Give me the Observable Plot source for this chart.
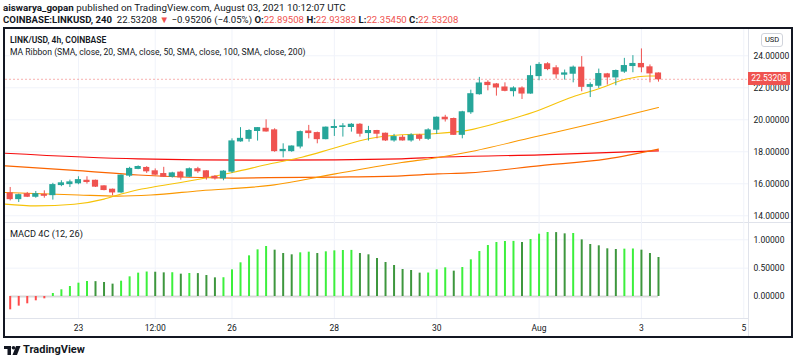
<!DOCTYPE html>
<html><head><meta charset="utf-8">
<script src="https://cdn.jsdelivr.net/npm/d3@7"></script>
<script src="https://cdn.jsdelivr.net/npm/@observablehq/plot@0.6"></script>
<style>
body{margin:0;background:#fff;font-family:Roboto,"Liberation Sans",sans-serif;color:#131722}
#root{position:relative;width:800px;height:362px;overflow:hidden;background:#fff}
.abs{position:absolute;white-space:pre}
.b{font-weight:700}
.r{color:#ef5350}
</style></head>
<body><div id="root">
<div class="abs" id="h1" style="left:3px;top:2px;font-size:9.8px;line-height:12px"><span class="b">aiswarya_gopan</span> published on TradingView.com, August 03, 2021 10:12:07 UTC</div>
<div class="abs" id="h2" style="left:3px;top:13.5px;font-size:9.6px;line-height:12px"><span class="b">COINBASE:LINKUSD, 240</span>  22.53208 <span class="r">▼</span> −0.95206 (−4.05%) <span class="b">O:</span><span class="r">22.89508</span> <span class="b">H:</span><span class="r">22.93383</span> <span class="b">L:</span><span class="r">22.35450</span> <span class="b">C:</span><span class="r">22.53208</span></div>
<div class="abs" style="left:3px;top:27px;width:786px;height:307px;border:2px solid #131722"></div>
<div class="abs" style="left:748px;top:29px;width:1px;height:307px;background:#e0e3eb"></div>
<div class="abs" style="left:5px;top:221.5px;width:786px;height:1px;background:#e0e3eb"></div>
<div class="abs" style="left:5px;top:318px;width:743px;height:1px;background:#e0e3eb"></div>
<div class="abs" id="price" style="left:5px;top:29px"></div>
<div class="abs" id="macd" style="left:5px;top:222px"></div>
<div class="abs" style="left:10px;top:34px;font-size:8.5px;line-height:12px;font-weight:600">LINK/USD, 4h, COINBASE</div>
<div class="abs" style="left:10px;top:46px;font-size:8.6px;line-height:12px">MA Ribbon (SMA, close, 20, SMA, close, 50, SMA, close, 100, SMA, close, 200)</div>
<div class="abs" style="left:10px;top:227.5px;font-size:9.2px;line-height:12px">MACD 4C (12, 26)</div>
<div class="abs" style="left:761px;top:33px;width:20px;height:12px;border:1px solid #d1d4dc;border-radius:3px;font-size:7.5px;line-height:12px;text-align:center;background:#fff">USD</div>
<div class="abs" id="plabel" style="left:748px;width:42px;height:13px;background:#ef5350;color:#fff;font-size:8.5px;line-height:13px;text-align:center"></div>
<svg class="abs" style="left:0;top:340px" width="100" height="20">
  <rect x="4" y="6" width="7" height="3" fill="#131722"/>
  <rect x="7.5" y="6" width="3.5" height="9" fill="#131722"/>
  <circle cx="13.5" cy="7.8" r="1.8" fill="#131722"/>
  <polygon points="16,6 20.5,6 17,15 12.5,15" fill="#131722"/>
</svg>
<div class="abs" style="left:23px;top:342.5px;font-size:11px;line-height:14px;font-weight:700">TradingView</div>
</div>
<script>
// ---- data ----
const candleStart = Date.UTC(2021, 6, 21, 16); // first 4h candle
const opens  = [15.40,15.04,15.35,15.19,15.31,15.29,15.92,15.98,16.03,16.19,16.19,15.84,15.63,15.46,16.51,16.93,16.99,16.78,16.61,16.44,16.70,16.44,16.91,16.78,16.44,16.34,16.76,18.65,18.81,19.30,19.44,19.34,18.04,18.04,18.33,19.27,19.17,18.79,19.49,19.55,19.55,19.69,19.17,19.30,19.13,18.71,18.88,18.71,19.02,18.81,19.38,20.13,20.05,19.06,20.47,21.60,22.31,22.21,22.02,21.79,21.96,21.64,22.73,23.47,23.22,22.82,22.88,23.26,22.06,22.13,22.84,22.65,23.01,23.36,23.49,23.28,22.89508];
const highs  = [15.77,15.35,15.46,15.52,15.56,16.03,16.19,16.23,16.44,16.44,16.23,15.88,15.67,16.55,17.03,17.12,17.07,16.93,17.03,16.72,16.78,16.99,17.03,16.82,16.51,16.82,18.81,19.51,19.38,19.51,20.00,19.44,18.50,18.37,19.30,19.65,19.23,19.55,20.00,19.76,19.76,19.76,19.59,19.34,19.17,19.09,19.02,19.13,19.09,19.44,20.18,20.28,20.11,20.53,21.85,22.65,22.44,22.27,22.31,22.06,22.06,23.36,23.57,23.57,23.38,23.11,23.36,23.95,22.31,23.17,22.90,23.11,23.84,24.01,24.43,23.43,22.93383];
const lows   = [14.93,14.83,15.14,15.10,15.10,14.98,15.82,15.77,15.94,15.98,15.77,15.56,15.25,15.40,16.40,16.88,16.65,16.51,16.40,16.36,16.23,16.40,16.65,16.23,16.23,16.19,16.65,18.60,18.60,18.67,19.23,17.97,17.62,17.97,18.18,18.81,18.50,18.75,18.96,18.92,19.23,18.92,18.67,18.81,18.65,18.60,18.67,18.60,18.67,18.71,19.09,19.86,19.02,18.81,20.34,21.54,21.81,21.48,21.75,21.43,21.27,21.60,22.44,23.07,22.55,22.48,22.31,21.75,21.39,21.96,22.17,22.13,22.90,22.94,22.94,22.31,22.35450];
const closes = [15.04,15.29,15.19,15.35,15.25,15.92,16.03,16.09,16.23,16.11,15.82,15.61,15.46,16.51,16.93,17.05,16.78,16.57,16.44,16.65,16.40,16.91,16.78,16.40,16.34,16.76,18.65,18.81,19.30,19.48,19.27,18.04,18.12,18.33,19.23,19.17,18.79,19.51,19.55,19.59,19.69,19.13,19.30,19.13,18.71,18.92,18.71,19.02,18.81,19.34,20.13,20.03,19.06,20.47,21.60,22.27,22.17,22.02,21.81,21.96,21.64,22.73,23.43,23.17,22.84,22.90,23.26,22.06,22.17,22.86,22.65,23.05,23.36,23.49,23.28,22.90,22.53208];
const macdHist = [-0.235,-0.170,-0.129,-0.076,-0.041,0.053,0.118,0.176,0.235,0.265,0.262,0.247,0.218,0.270,0.347,0.412,0.432,0.428,0.417,0.419,0.394,0.406,0.404,0.370,0.329,0.331,0.470,0.594,0.717,0.823,0.882,0.817,0.758,0.735,0.770,0.782,0.758,0.788,0.805,0.811,0.813,0.758,0.735,0.670,0.600,0.547,0.476,0.459,0.412,0.414,0.470,0.506,0.447,0.511,0.647,0.794,0.899,0.952,0.970,0.972,0.952,1.005,1.099,1.129,1.127,1.105,1.111,0.999,0.917,0.894,0.841,0.829,0.835,0.838,0.817,0.758,0.688];
// moving averages: [candle index, value]
const sma20  = [[-0.6,14.73],[3,14.62],[7.5,14.72],[11,15.04],[13,15.36],[15,15.63],[16.5,15.77],[22.3,16.30],[26.2,16.72],[30.5,17.25],[34.2,17.66],[38.1,18.25],[42,18.82],[45.9,19.07],[49.6,19.13],[53.6,19.34],[57.5,19.86],[61.4,20.49],[65.9,21.43],[69.1,21.96],[72.1,22.53],[74.9,22.74],[76,22.74]];
const sma50  = [[-0.6,15.46],[8,15.30],[12.6,15.23],[16.5,15.30],[22.3,15.57],[30.5,15.90],[38.1,16.62],[45.9,17.33],[50,17.63],[53.6,17.97],[61.4,18.92],[69.1,19.86],[76,20.77]];
const sma100 = [[-0.6,17.12],[8,16.82],[15,16.55],[26.2,16.36],[30.3,16.38],[38.1,16.42],[45.9,16.50],[50.1,16.62],[53.6,16.68],[62.2,17.14],[70,17.56],[76,18.17]];
const sma200 = [[-0.6,17.91],[15,17.56],[30.4,17.48],[45.9,17.56],[50.1,17.66],[62.2,17.81],[76,18.06]];
const priceTicks = [14,16,18,20,22,24];
const macdTicks = [0,0.5,1];
const timeTicks = ["2021-07-23T00:00Z","2021-07-24T12:00Z","2021-07-26T00:00Z","2021-07-28T00:00Z","2021-07-30T00:00Z","2021-08-01T00:00Z","2021-08-03T00:00Z","2021-08-05T00:00Z"];
const timeLabels = ["23","12:00","26","28","30","Aug","3","5"];
const lastPrice = 22.53208;

// ---- build ----
const H = 3600*1000, H4 = 4*H, DAY = 24*H;
const t0 = Date.UTC(2021,6,23);
const xDomain = [new Date(t0 - 1.4252*DAY), new Date(t0 + 13.092*DAY)];
const toDate = i => new Date(candleStart + i*H4);
const candles = opens.map((o,i)=>({date:toDate(i),open:o,high:highs[i],low:lows[i],close:closes[i]}));
const up = "#26a69a", down = "#ef5350";
const col = d => d.close >= d.open ? up : down;
const tickDates = timeTicks.map(s=>new Date(s));
const maRows = (arr,name)=>arr.map(([i,v])=>({date:toDate(i),v,name}));
const maColors = {"20":"#f6c309","50":"#fb9800","100":"#fb6500","200":"#f60c0c"};
const macd = macdHist.map((v,i)=>({date:toDate(i),v,c: v<0 ? "#ff4a4a" : (i>0 && v<macdHist[i-1] ? "#3e973e" : "#3cf03c")}));
const style = {fontSize:"8.5px",fontFamily:"Roboto, sans-serif",color:"#131722",background:"transparent",overflow:"visible"};

const price = Plot.plot({
  width:786,height:193,marginLeft:0,marginRight:43,marginTop:0,marginBottom:0,style,
  x:{type:"utc",domain:xDomain,axis:null},
  y:{domain:[13.581,25.644],axis:null},
  marks:[
    Plot.ruleY(priceTicks,{stroke:"#f0f3fa",strokeWidth:1}),
    Plot.ruleX(tickDates,{stroke:"#f0f3fa",strokeWidth:1}),
    Plot.axisY(priceTicks,{anchor:"right",label:null,tickSize:0,tickPadding:5,textAnchor:"start",tickFormat:d=>d.toFixed(5),fill:"#131722"}),
    Plot.ruleY([lastPrice],{stroke:"#ef5350",strokeOpacity:0.45,strokeDasharray:"2,2"}),
    Plot.line(maRows(sma200,"200"),{x:"date",y:"v",stroke:maColors["200"],strokeWidth:1.2,clip:true,curve:"monotone-x"}),
    Plot.line(maRows(sma100,"100"),{x:"date",y:"v",stroke:maColors["100"],strokeWidth:1.2,clip:true,curve:"monotone-x"}),
    Plot.line(maRows(sma50,"50"),{x:"date",y:"v",stroke:maColors["50"],strokeWidth:1.1,clip:true,curve:"monotone-x"}),
    Plot.line(maRows(sma20,"20"),{x:"date",y:"v",stroke:maColors["20"],strokeWidth:1.1,clip:true,curve:"monotone-x"}),
    Plot.ruleX(candles,{x:"date",y1:"low",y2:"high",stroke:col,strokeWidth:1}),
    Plot.rect(candles,{x1:d=>new Date(+d.date-1.45*H),x2:d=>new Date(+d.date+1.45*H),y1:d=>Math.min(d.open,d.close),y2:d=>Math.max(d.open,d.close),fill:col,insetTop:-0.5,insetBottom:-0.5})
  ]
});
document.getElementById("price").appendChild(price);
const py = price.scale("y").apply(lastPrice);
const pl = document.getElementById("plabel");
pl.textContent = lastPrice.toFixed(5);
pl.style.top = (29 + py - 6.5) + "px";

const macdPlot = Plot.plot({
  width:786,height:114,marginLeft:0,marginRight:43,marginTop:0,marginBottom:18,style,
  x:{type:"utc",domain:xDomain,axis:null},
  y:{domain:[-0.388,1.305],axis:null},
  marks:[
    Plot.ruleY(macdTicks.slice(1),{stroke:"#f0f3fa"}),
    Plot.ruleX(tickDates,{stroke:"#f0f3fa"}),
    Plot.ruleY([0],{x1:candles[0].date,x2:candles[candles.length-1].date,stroke:"#d9d9d9",strokeWidth:2}),
    Plot.ruleX(macd,{x:"date",y1:0,y2:"v",stroke:"c",strokeWidth:2}),
    Plot.axisY(macdTicks,{anchor:"right",label:null,tickSize:0,tickPadding:5,textAnchor:"start",tickFormat:d=>d.toFixed(5),fill:"#131722"}),
    Plot.axisX(tickDates,{anchor:"bottom",label:null,tickSize:0,tickPadding:6,tickFormat:(d,i)=>timeLabels[i],fill:"#131722"})
  ]
});
document.getElementById("macd").appendChild(macdPlot);
</script>
</body></html>
